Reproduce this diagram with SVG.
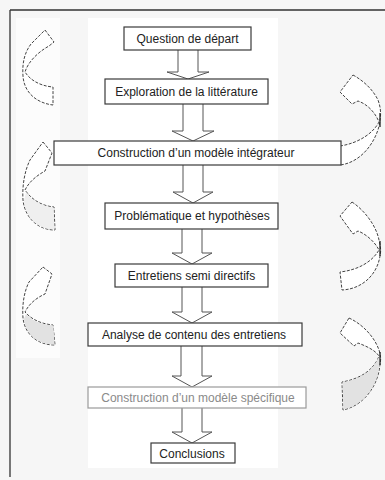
<svg xmlns="http://www.w3.org/2000/svg" width="385" height="480" viewBox="0 0 385 480">
<style>
.box{fill:#fff;stroke:#3a3a3a;stroke-width:1.2}
.box.light{stroke:#9a9a9a}
.lbl{font-family:"Liberation Sans",Arial,sans-serif;font-size:12px;fill:#222;text-anchor:middle}
.lbl.light{fill:#8a8a8a}
.blk{fill:#fff;stroke:#555;stroke-width:1}
.curve{fill:#fff;stroke:#444;stroke-width:1;stroke-dasharray:3 1.5}
.band{fill:#e2e2e2;stroke:none}
.frame{stroke:#333;stroke-width:1.3;fill:none}
</style>
<rect x="0" y="0" width="385" height="480" fill="#f6f6f6"/>
<rect x="88" y="18" width="190" height="450" fill="#ffffff"/>
<rect x="16" y="18" width="44" height="340" fill="#fcfcfc"/>
<path class="frame" d="M10 10 H385 M10 10 V477"/>

<g id="connectors">
  <polyline class="blk" points="178,50 178,72 167,72 188,79 209,72 198,72 198,50"/>
  <polyline class="blk" points="183,104 183,131 172,131 193,141 214,131 203,131 203,104"/>
  <polyline class="blk" points="183,165 183,192 173,192 193,203 213,192 203,192 203,165"/>
  <polyline class="blk" points="182,229 182,253 172,253 192,264 212,253 202,253 202,229"/>
  <polyline class="blk" points="182,287 182,312 172,312 192,323 212,312 202,312 202,287"/>
  <polyline class="blk" points="181,346 181,376 172,376 192,387 212,376 202,376 202,346"/>
  <polyline class="blk" points="182,408 182,432 172,432 192,443 212,432 202,432 202,408"/>
</g>

<g id="feedback">
  <g id="loop-left-1">
    <path class="curve" d="M45 30 L54 42 L49 46 C38 52 28 62 25 72 C30 80 40 86 53 87 L53 105 C36 103 24 92 23 76 C22 62 25 52 31 44 Z"/>
  </g>
  <g id="loop-left-2">
    <path class="curve" d="M43 142 L52 153 L45 171 C36 176 29 182 25 190 C32 200 42 206 54 207 L55 230 C38 230 25 218 23 200 C22 185 25 170 30 160 Z"/>
    <path class="band" style="fill:#efefef" d="M26 192 C32 201 42 206 53.5 207.5 L54.5 229.5 C38 229.5 26 218 24 201 Z"/>
  </g>
  <g id="loop-left-3">
    <path class="curve" d="M43 267 L52 274 L45 294 C36 298 29 304 25 312 C32 320 42 324 53 325 L55 345 C38 345 25 335 23 318 C22 305 24 292 29 282 Z"/>
    <path class="band" d="M26 314 C32 321 42 324.5 53.5 325.5 L54.5 344.5 C38 344.5 26 335 24 319 Z"/>
  </g>
  <g id="loop-right-1">
    <path class="curve" d="M353 75 C362 80 372 88 378 100 C381 108 381 115 380 120 C379 135 365 162 340 165 L340 146 C360 143 374 132 379 122 C375 112 367 104 358 101 L352 104 L340 92 Z"/>
    <line x1="380" y1="113" x2="380" y2="127" stroke="#222" stroke-width="1.3"/>
  </g>
  <g id="loop-right-2">
    <path class="curve" d="M352 202 C364 210 376 225 379 240 C381 248 381 252 380 256 C377 275 362 289 342 290 L340 272 C358 270 372 262 379 250 C375 242 366 234 358 231 L353 234 L340 216 Z"/>
    <line x1="380" y1="241" x2="380" y2="256" stroke="#222" stroke-width="1.3"/>
  </g>
  <g id="loop-right-3">
    <path class="curve" d="M349 318 C362 324 374 336 379 350 C381 356 381 360 380 364 C378 388 362 406 343 410 L342 382 C360 379 374 370 379 356 C375 350 366 346 358 343 L354 346 L340 333 Z"/>
    <path class="band" d="M378.5 357 C374 370.5 360 379.5 342.5 382.5 L343.5 409.5 C362 405.5 377.5 388 379.5 364 Z"/>
    <line x1="380" y1="352" x2="380" y2="365" stroke="#222" stroke-width="1.3"/>
  </g>
</g>

<g id="n1"><rect class="box" x="124" y="27" width="127" height="23"/><text class="lbl" x="187.5" y="43">Question de départ</text></g>
<g id="n2"><rect class="box" x="105" y="79" width="163" height="25"/><text class="lbl" x="186.5" y="96">Exploration de la littérature</text></g>
<g id="n3"><rect class="box" x="54" y="141" width="287" height="24"/><text class="lbl" x="196" y="157">Construction d’un modèle intégrateur</text></g>
<g id="n4"><rect class="box" x="105" y="203" width="173" height="26"/><text class="lbl" x="192" y="220">Problématique et hypothèses</text></g>
<g id="n5"><rect class="box" x="115" y="264" width="153" height="23"/><text class="lbl" x="191.5" y="280">Entretiens semi directifs</text></g>
<g id="n6"><rect class="box" x="88" y="323" width="214" height="23"/><text class="lbl" x="194" y="339">Analyse de contenu des entretiens</text></g>
<g id="n7"><rect class="box light" x="88" y="387" width="218" height="21"/><text class="lbl light" x="198" y="402">Construction d’un modèle spécifique</text></g>
<g id="n8"><rect class="box" x="151" y="443" width="84" height="20"/><text class="lbl" x="192" y="458">Conclusions</text></g>
</svg>
